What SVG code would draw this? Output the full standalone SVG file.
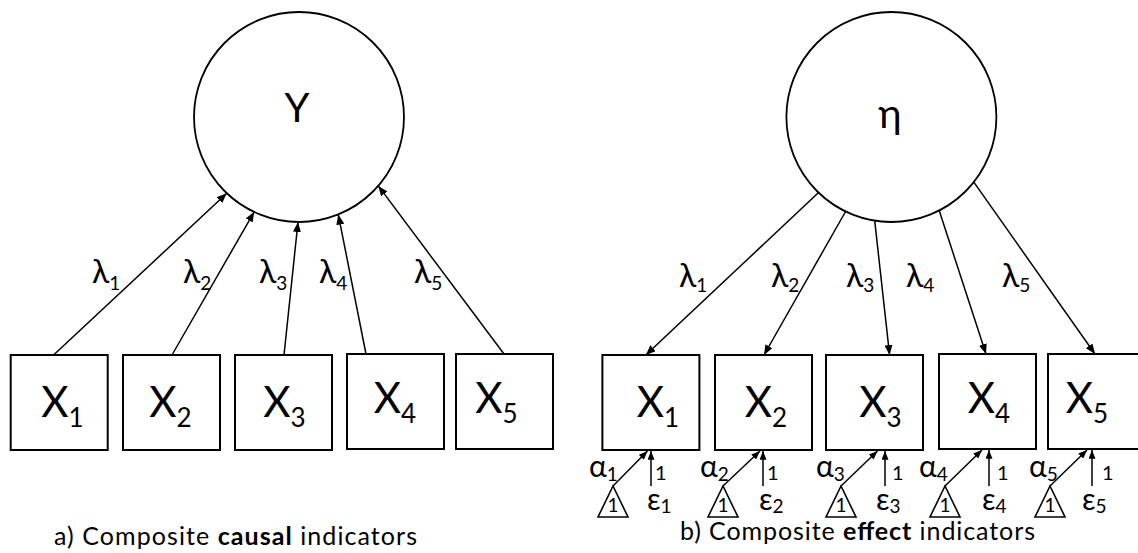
<svg xmlns="http://www.w3.org/2000/svg" width="1138" height="553" viewBox="0 0 1138 553">
  <style>
    text { font-family: Lato, "Open Sans", "Noto Sans", sans-serif; fill: #000; }
    .node { fill: #fff; stroke: #000; stroke-width: 2; }
    .latent { fill: #fff; stroke: #000; stroke-width: 1.8; }
    .edge { fill: none; stroke: #000; stroke-width: 1.5; marker-end: url(#arrow); }
    .small-edge { fill: none; stroke: #000; stroke-width: 1.5; marker-end: url(#arrow-sm); }
    .const { fill: #fff; stroke: #000; stroke-width: 1.6; }
    .var { font-size: 42px; text-anchor: middle; }
    .lat { font-size: 40px; text-anchor: middle; }
    .coef { font-size: 32px; }
    .par { font-size: 30px; }
    .one { font-size: 20px; }
    .tri1 { font-size: 19px; text-anchor: middle; }
    .caption { font-size: 25px; }
  </style>
  <defs>
    <marker id="arrow" viewBox="0 0 10 8" refX="10" refY="4" markerWidth="10" markerHeight="8" markerUnits="userSpaceOnUse" orient="auto">
      <path d="M0,0 L10,4 L0,8 z" fill="#000"/>
    </marker>
    <marker id="arrow-sm" viewBox="0 0 10 8" refX="10" refY="4" markerWidth="9" markerHeight="7" markerUnits="userSpaceOnUse" orient="auto">
      <path d="M0,0 L10,4 L0,8 z" fill="#000"/>
    </marker>
  </defs>

  <!-- Panel a: composite with causal indicators -->
  <g id="panel-a">
    <g id="a-connectors">
      <line class="edge" x1="53.6" y1="355" x2="226.8" y2="193.3"/>
      <line class="edge" x1="172" y1="355" x2="254.2" y2="211.8"/>
      <line class="edge" x1="284" y1="355" x2="298" y2="222"/>
      <line class="edge" x1="366" y1="354" x2="338.3" y2="214.6"/>
      <line class="edge" x1="504" y1="354" x2="378.3" y2="185.9"/>
    </g>
    <g id="a-loadings">
      <text class="coef" x="92" y="283">λ<tspan font-size="19" dy="7">1</tspan></text>
      <text class="coef" x="183" y="283">λ<tspan font-size="19" dy="7">2</tspan></text>
      <text class="coef" x="259" y="283">λ<tspan font-size="19" dy="7">3</tspan></text>
      <text class="coef" x="319" y="283">λ<tspan font-size="19" dy="7">4</tspan></text>
      <text class="coef" x="414" y="283">λ<tspan font-size="19" dy="7">5</tspan></text>
    </g>
    <g id="a-Y">
      <circle class="latent" cx="299" cy="117" r="105"/>
      <text class="lat" x="297" y="122">Y</text>
    </g>
    <g id="a-X1">
      <rect class="node" x="10.7" y="355" width="97" height="95"/>
      <text class="var" x="62.5" y="417">X<tspan font-size="26" dy="10">1</tspan></text>
    </g>
    <g id="a-X2">
      <rect class="node" x="123" y="355" width="97" height="95"/>
      <text class="var" x="170.5" y="417">X<tspan font-size="26" dy="10">2</tspan></text>
    </g>
    <g id="a-X3">
      <rect class="node" x="235" y="355" width="97" height="95"/>
      <text class="var" x="284.5" y="417">X<tspan font-size="26" dy="10">3</tspan></text>
    </g>
    <g id="a-X4">
      <rect class="node" x="347" y="354" width="97" height="95"/>
      <text class="var" x="395" y="413">X<tspan font-size="26" dy="10">4</tspan></text>
    </g>
    <g id="a-X5">
      <rect class="node" x="456" y="354" width="97" height="95"/>
      <text class="var" x="496.5" y="413">X<tspan font-size="26" dy="10">5</tspan></text>
    </g>
    <text class="caption" x="54" y="545" textLength="363" lengthAdjust="spacing">a) Composite <tspan font-weight="bold">causal</tspan> indicators</text>
  </g>

  <!-- Panel b: composite with effect indicators -->
  <g id="panel-b">
    <g id="b-connectors">
      <line class="edge" x1="818.6" y1="192.5" x2="645.8" y2="355"/>
      <line class="edge" x1="845.6" y1="211.5" x2="764" y2="355"/>
      <line class="edge" x1="874.7" y1="220.7" x2="889.6" y2="355"/>
      <line class="edge" x1="939.2" y1="210.5" x2="986" y2="354"/>
      <line class="edge" x1="974" y1="182.4" x2="1095" y2="354"/>
      <!-- intercept paths from the constant triangles -->
      <line class="small-edge" x1="613" y1="486" x2="647.5" y2="451"/>
      <line class="small-edge" x1="723" y1="486" x2="760" y2="451"/>
      <line class="small-edge" x1="841" y1="486" x2="877.5" y2="451"/>
      <line class="small-edge" x1="945" y1="486" x2="982" y2="450"/>
      <line class="small-edge" x1="1050" y1="486" x2="1087" y2="450"/>
      <!-- error paths fixed at 1 -->
      <line class="small-edge" x1="651" y1="486" x2="651" y2="451"/>
      <line class="small-edge" x1="763" y1="486" x2="763" y2="451"/>
      <line class="small-edge" x1="885" y1="486" x2="885" y2="451"/>
      <line class="small-edge" x1="989" y1="486" x2="989" y2="450"/>
      <line class="small-edge" x1="1092" y1="486" x2="1092" y2="450"/>
    </g>
    <g id="b-loadings">
      <text class="coef" x="679" y="287">λ<tspan font-size="19" dy="5">1</tspan></text>
      <text class="coef" x="771" y="287">λ<tspan font-size="19" dy="5">2</tspan></text>
      <text class="coef" x="846" y="287">λ<tspan font-size="19" dy="5">3</tspan></text>
      <text class="coef" x="906" y="287">λ<tspan font-size="19" dy="5">4</tspan></text>
      <text class="coef" x="1002" y="287">λ<tspan font-size="19" dy="5">5</tspan></text>
    </g>
    <g id="b-eta">
      <circle class="latent" cx="891.4" cy="117" r="105"/>
      <text class="lat" x="890" y="128">η</text>
    </g>
    <g id="b-X1">
      <rect class="node" x="602.4" y="355" width="97" height="95"/>
      <text class="var" x="658" y="417">X<tspan font-size="26" dy="10">1</tspan></text>
    </g>
    <g id="b-X2">
      <rect class="node" x="715" y="355" width="97" height="95"/>
      <text class="var" x="766" y="417">X<tspan font-size="26" dy="10">2</tspan></text>
    </g>
    <g id="b-X3">
      <rect class="node" x="826" y="355" width="97" height="95"/>
      <text class="var" x="880.5" y="417">X<tspan font-size="26" dy="10">3</tspan></text>
    </g>
    <g id="b-X4">
      <rect class="node" x="939" y="354" width="97" height="95"/>
      <text class="var" x="989" y="413">X<tspan font-size="26" dy="10">4</tspan></text>
    </g>
    <g id="b-X5">
      <rect class="node" x="1048" y="354" width="97" height="95"/>
      <text class="var" x="1087" y="413">X<tspan font-size="26" dy="10">5</tspan></text>
    </g>
    <!-- constant (mean structure) triangles -->
    <g id="b-const1">
      <polygon class="const" points="613,486 598,517 628,517"/>
      <text class="tri1" x="613" y="512">1</text>
    </g>
    <g id="b-const2">
      <polygon class="const" points="723,486 708,517 738,517"/>
      <text class="tri1" x="723" y="512">1</text>
    </g>
    <g id="b-const3">
      <polygon class="const" points="841,486 826,517 856,517"/>
      <text class="tri1" x="841" y="512">1</text>
    </g>
    <g id="b-const4">
      <polygon class="const" points="945,486 930,517 960,517"/>
      <text class="tri1" x="945" y="512">1</text>
    </g>
    <g id="b-const5">
      <polygon class="const" points="1050,486 1035,517 1065,517"/>
      <text class="tri1" x="1050" y="512">1</text>
    </g>
    <g id="b-intercepts">
      <text class="par" x="589" y="477">α<tspan font-size="19" dy="4">1</tspan></text>
      <text class="par" x="700" y="477">α<tspan font-size="19" dy="4">2</tspan></text>
      <text class="par" x="816" y="477">α<tspan font-size="19" dy="4">3</tspan></text>
      <text class="par" x="919" y="477">α<tspan font-size="19" dy="4">4</tspan></text>
      <text class="par" x="1029" y="477">α<tspan font-size="19" dy="4">5</tspan></text>
    </g>
    <g id="b-fixed">
      <text class="one" x="655" y="480">1</text>
      <text class="one" x="767" y="480">1</text>
      <text class="one" x="892" y="480">1</text>
      <text class="one" x="997" y="480">1</text>
      <text class="one" x="1102" y="480">1</text>
    </g>
    <g id="b-errors">
      <text class="par" x="647" y="510">ε<tspan font-size="19" dy="3">1</tspan></text>
      <text class="par" x="759" y="510">ε<tspan font-size="19" dy="3">2</tspan></text>
      <text class="par" x="876" y="510">ε<tspan font-size="19" dy="3">3</tspan></text>
      <text class="par" x="982" y="510">ε<tspan font-size="19" dy="3">4</tspan></text>
      <text class="par" x="1082" y="510">ε<tspan font-size="19" dy="3">5</tspan></text>
    </g>
    <text class="caption" x="680" y="540" textLength="355" lengthAdjust="spacing">b) Composite <tspan font-weight="bold">effect</tspan> indicators</text>
  </g>
</svg>
